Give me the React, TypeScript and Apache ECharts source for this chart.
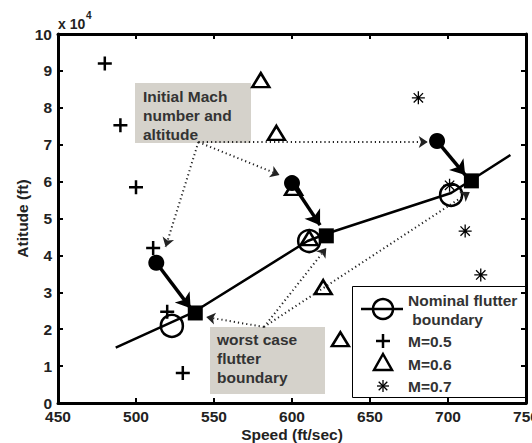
import React, { useEffect, useRef } from "react";
import * as echarts from "echarts";

// ---- data ----
const xTicks = [450, 500, 550, 600, 650, 700, 750];
const yTicks = [0, 1, 2, 3, 4, 5, 6, 7, 8, 9, 10];

const m05Speed = [480, 490, 500, 511, 520, 530];
const m05Alt = [92000, 75300, 58500, 42000, 24700, 8100];
const m06Speed = [580, 590, 601, 611, 620, 631];
const m06Alt = [87500, 73200, 58300, 44700, 31400, 17300];
const m07Speed = [681, 701, 711, 721];
const m07Alt = [82700, 59000, 46600, 34700];

const nominalLineSpeed = [487, 536, 610, 623, 702, 740];
const nominalLineAlt = [15000, 24400, 43900, 46000, 56900, 67200];
const nominalPtSpeed = [523, 611, 702];
const nominalPtAlt = [20900, 43900, 56400];

const initSpeed = [513, 600, 693];
const initAlt = [38000, 59600, 71000];
const worstSpeed = [538, 622, 715];
const worstAlt = [24400, 45300, 60200];
const arrowTipSpeed = [535, 618, 711];
const arrowTipAlt = [25700, 48200, 61800];

const initNoteAnchor = [540, 70700];
const initNoteTipSpeed = [519, 592, 687];
const initNoteTipAlt = [42300, 61800, 70700];
const worstNoteAnchor = [582, 20600];
const worstNoteTipSpeed = [545, 622, 714];
const worstNoteTipAlt = [23300, 42000, 57200];

const FONT = "'Liberation Sans', Arial, Helvetica, sans-serif";
const PLUS = "path://M0,-1L0,1M-1,0L1,0";
const TRI = "path://M0,-1L0.9,0.6L-0.9,0.6Z";
const STAR = "path://M0,-1L0,1M-1,0L1,0M-0.72,-0.72L0.72,0.72M-0.72,0.72L0.72,-0.72";

const zip = (a: number[], b: number[]) => a.map((v, i) => [v, b[i]]);

export default function App() {
  const ref = useRef<HTMLDivElement>(null);
  useEffect(() => {
    if (!ref.current) return;
    const chart = echarts.init(ref.current, null, { renderer: "svg" });
    const axisLabel = { color: "#222", fontFamily: FONT, fontWeight: "bold" as const, fontSize: 15.5 };
    const noteText = (x: number, y: number, text: string) => ({
      type: "text",
      x,
      y,
      z: 1,
      style: { text, font: `bold 15.5px ${FONT}`, fill: "#333", lineHeight: 18.8, verticalAlign: "top" },
    });
    const legText = (x: number, y: number, text: string) => ({
      type: "text",
      x,
      y,
      style: { text, font: `bold 15.5px ${FONT}`, fill: "#333", verticalAlign: "middle" },
    });
    const option: any = {
      animation: false,
      grid: { left: 58, right: 6, top: 34, bottom: 40, containLabel: false, outerBoundsMode: "none" },
      xAxis: [
        {
          type: "value",
          min: 450,
          max: 750,
          interval: 50,
          name: "Speed (ft/sec)",
          nameLocation: "middle",
          nameGap: 23,
          nameMoveOverlap: false,
          nameTextStyle: { ...axisLabel },
          axisLine: { show: true, onZero: false, lineStyle: { color: "#000", width: 3 } },
          axisTick: { show: true, inside: true, length: 5, lineStyle: { color: "#000", width: 2 } },
          axisLabel: { ...axisLabel, margin: 5, formatter: (v: number) => (xTicks.includes(v) ? String(v) : "") },
          splitLine: { show: false },
        },
        {
          type: "value",
          position: "top",
          min: 450,
          max: 750,
          interval: 50,
          axisLine: { show: true, onZero: false, lineStyle: { color: "#000", width: 3 } },
          axisTick: { show: true, inside: true, length: 5, lineStyle: { color: "#000", width: 2 } },
          axisLabel: { show: false },
          splitLine: { show: false },
        },
      ],
      yAxis: [
        {
          type: "value",
          min: 0,
          max: 100000,
          interval: 10000,
          name: "Atitude (ft)",
          nameLocation: "middle",
          nameGap: 27.5,
          nameMoveOverlap: false,
          nameTextStyle: { ...axisLabel },
          axisLine: { show: true, onZero: false, lineStyle: { color: "#000", width: 3 } },
          axisTick: { show: true, inside: true, length: 5, lineStyle: { color: "#000", width: 2 } },
          axisLabel: {
            ...axisLabel,
            margin: 6,
            formatter: (v: number) => (yTicks.includes(v / 10000) ? String(v / 10000) : ""),
          },
          splitLine: { show: false },
        },
        {
          type: "value",
          position: "right",
          min: 0,
          max: 100000,
          interval: 10000,
          axisLine: { show: true, onZero: false, lineStyle: { color: "#000", width: 3 } },
          axisTick: { show: true, inside: true, length: 5, lineStyle: { color: "#000", width: 2 } },
          axisLabel: { show: false },
          splitLine: { show: false },
        },
      ],
      graphic: [
        {
          type: "text",
          x: 58,
          y: 24,
          style: { text: "x 10", font: `bold 14px ${FONT}`, fill: "#222", verticalAlign: "middle" },
        },
        {
          type: "text",
          x: 86,
          y: 15,
          style: { text: "4", font: `bold 10px ${FONT}`, fill: "#222", verticalAlign: "middle" },
        },
        { type: "rect", z: 0, shape: { x: 135, y: 83, width: 116, height: 60 }, style: { fill: "#d5d2cb" } },
        noteText(143, 87.5, "Initial Mach\nnumber and\naltitude"),
        { type: "rect", z: 0, shape: { x: 210, y: 327, width: 115, height: 67 }, style: { fill: "#d5d2cb" } },
        noteText(217, 330.5, "worst case\nflutter\nboundary"),
        {
          type: "group",
          z: 100,
          children: [
            { type: "rect", shape: { x: 352.5, y: 286.5, width: 173, height: 111 }, style: { fill: "#fff", stroke: "#000", lineWidth: 1 } },
            { type: "line", shape: { x1: 361, y1: 309, x2: 403, y2: 309 }, style: { stroke: "#000", lineWidth: 2.5 } },
            { type: "circle", shape: { cx: 383, cy: 309, r: 10 }, style: { fill: "none", stroke: "#000", lineWidth: 2.5 } },
            legText(408, 300, "Nominal flutter"),
            legText(408, 319, " boundary"),
            { type: "line", shape: { x1: 383, y1: 334, x2: 383, y2: 348 }, style: { stroke: "#000", lineWidth: 2.5 } },
            { type: "line", shape: { x1: 376, y1: 341, x2: 390, y2: 341 }, style: { stroke: "#000", lineWidth: 2.5 } },
            legText(408, 341, "M=0.5"),
            {
              type: "polygon",
              shape: { points: [[383, 354], [392, 370], [374, 370]] },
              style: { fill: "none", stroke: "#000", lineWidth: 2.5 },
            },
            legText(408, 364, "M=0.6"),
            { type: "line", shape: { x1: 383, y1: 380, x2: 383, y2: 392 }, style: { stroke: "#000", lineWidth: 1.3 } },
            { type: "line", shape: { x1: 377, y1: 386, x2: 389, y2: 386 }, style: { stroke: "#000", lineWidth: 1.3 } },
            { type: "line", shape: { x1: 378.7, y1: 381.7, x2: 387.3, y2: 390.3 }, style: { stroke: "#000", lineWidth: 1.3 } },
            { type: "line", shape: { x1: 378.7, y1: 390.3, x2: 387.3, y2: 381.7 }, style: { stroke: "#000", lineWidth: 1.3 } },
            legText(408, 386, "M=0.7"),
          ],
        },
      ],
      series: [
        {
          name: "M=0.5",
          type: "scatter",
          z: 2,
          data: zip(m05Speed, m05Alt),
          symbol: PLUS,
          symbolSize: 14,
          itemStyle: { color: "transparent", borderColor: "#000", borderWidth: 2.5, opacity: 1 },
        },
        {
          name: "M=0.6",
          type: "scatter",
          z: 2,
          data: zip(m06Speed, m06Alt),
          symbol: TRI,
          symbolSize: [17, 14],
          itemStyle: { color: "transparent", borderColor: "#000", borderWidth: 2.5, opacity: 1 },
        },
        {
          name: "M=0.7",
          type: "scatter",
          z: 2,
          data: zip(m07Speed, m07Alt),
          symbol: STAR,
          symbolSize: 13,
          itemStyle: { color: "transparent", borderColor: "#000", borderWidth: 1.3, opacity: 1 },
        },
        {
          name: "Nominal flutter boundary",
          type: "line",
          z: 3,
          data: zip(nominalLineSpeed, nominalLineAlt),
          symbol: "none",
          lineStyle: { color: "#000", width: 2.5 },
        },
        {
          name: "Nominal points",
          type: "scatter",
          z: 3,
          data: zip(nominalPtSpeed, nominalPtAlt),
          symbol: "circle",
          symbolSize: 22,
          itemStyle: { color: "transparent", borderColor: "#000", borderWidth: 2.5, opacity: 1 },
        },
        {
          name: "Initial",
          type: "scatter",
          z: 5,
          data: zip(initSpeed, initAlt),
          symbol: "circle",
          symbolSize: 16,
          itemStyle: { color: "#000", opacity: 1 },
        },
        {
          name: "Worst case",
          type: "scatter",
          z: 5,
          data: zip(worstSpeed, worstAlt),
          symbol: "rect",
          symbolSize: 15,
          itemStyle: { color: "#000", opacity: 1 },
        },
        {
          name: "Shift",
          type: "lines",
          coordinateSystem: "cartesian2d",
          z: 4,
          data: initSpeed.map((s, i) => ({ coords: [[s, initAlt[i]], [arrowTipSpeed[i], arrowTipAlt[i]]] })),
          symbol: ["none", "arrow"],
          symbolSize: 14,
          lineStyle: { color: "#000", width: 3.5, opacity: 1 },
        },
        {
          name: "Initial note",
          type: "lines",
          coordinateSystem: "cartesian2d",
          z: 4,
          data: initNoteTipSpeed.map((s, i) => ({ coords: [initNoteAnchor, [s, initNoteTipAlt[i]]] })),
          symbol: ["none", "arrow"],
          symbolSize: 9,
          lineStyle: { color: "#222", width: 2, type: [1.2, 3], opacity: 1 },
        },
        {
          name: "Worst note",
          type: "lines",
          coordinateSystem: "cartesian2d",
          z: 4,
          data: worstNoteTipSpeed.map((s, i) => ({ coords: [worstNoteAnchor, [s, worstNoteTipAlt[i]]] })),
          symbol: ["none", "arrow"],
          symbolSize: 9,
          lineStyle: { color: "#222", width: 2, type: [1.2, 3], opacity: 1 },
        },
      ],
    };
    chart.setOption(option);
    return () => chart.dispose();
  }, []);
  return <div ref={ref} style={{ width: 532, height: 443, position: "absolute", left: 0, top: 0 }} />;
}
